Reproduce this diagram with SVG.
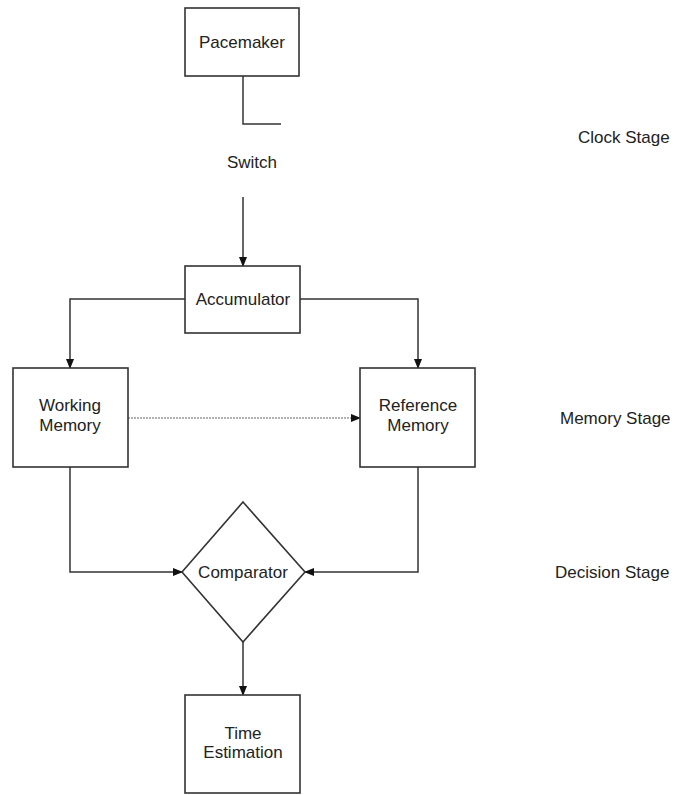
<svg xmlns="http://www.w3.org/2000/svg" width="681" height="795" viewBox="0 0 681 795">
<defs>
<style>
.box{fill:#fff;stroke:#333;stroke-width:1.6}
.t{font-family:"Liberation Sans",Arial,sans-serif;font-size:17px;fill:#222;text-anchor:middle}
.s{font-family:"Liberation Sans",Arial,sans-serif;font-size:17px;fill:#222}
.c{fill:none;stroke:#333;stroke-width:1.5}
.d{fill:none;stroke:#999;stroke-width:1.5;stroke-dasharray:2 1}
</style>
<marker id="ah" markerWidth="10" markerHeight="8" refX="9" refY="4" orient="auto" markerUnits="userSpaceOnUse">
<path d="M0,0 L10,4 L0,8 Z" fill="#111"/>
</marker>
</defs>
<rect width="681" height="795" fill="#fff"/>
<g id="connectors">
<path class="c" d="M243,76 V124 H281"/>
<path class="c" d="M243,197 V266" marker-end="url(#ah)"/>
<path class="c" d="M185,299 H70 V368" marker-end="url(#ah)"/>
<path class="c" d="M300,299 H418 V368" marker-end="url(#ah)"/>
<path class="d" d="M128,418 H360" marker-end="url(#ah)"/>
<path class="c" d="M70,467 V572 H182" marker-end="url(#ah)"/>
<path class="c" d="M418,467 V572 H305" marker-end="url(#ah)"/>
<path class="c" d="M243,642 V695" marker-end="url(#ah)"/>
</g>
<g id="pacemaker">
<rect class="box" x="185" y="8" width="114" height="68"/>
<text class="t" x="242" y="48">Pacemaker</text>
</g>
<g id="switch">
<text class="t" x="252" y="168">Switch</text>
</g>
<g id="accumulator">
<rect class="box" x="185" y="266" width="115" height="67"/>
<text class="t" x="243" y="305">Accumulator</text>
</g>
<g id="working-memory">
<rect class="box" x="13" y="368" width="115" height="99"/>
<text class="t" x="70" y="411">Working</text>
<text class="t" x="70" y="431">Memory</text>
</g>
<g id="reference-memory">
<rect class="box" x="360" y="368" width="115" height="99"/>
<text class="t" x="418" y="411">Reference</text>
<text class="t" x="418" y="431">Memory</text>
</g>
<g id="comparator">
<polygon class="box" points="243,502 305,572 243,642 182,572"/>
<text class="t" x="243" y="578">Comparator</text>
</g>
<g id="time-estimation">
<rect class="box" x="185" y="695" width="115" height="98"/>
<text class="t" x="243" y="739">Time</text>
<text class="t" x="243" y="758">Estimation</text>
</g>
<g id="stages">
<text class="s" x="578" y="143">Clock Stage</text>
<text class="s" x="560" y="424">Memory Stage</text>
<text class="s" x="555" y="578">Decision Stage</text>
</g>
</svg>
